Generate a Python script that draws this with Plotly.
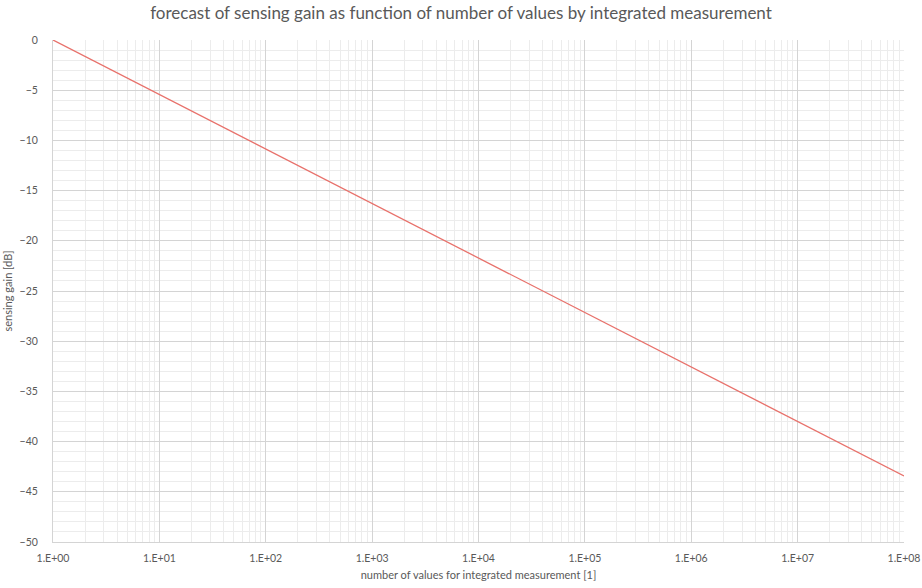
import plotly.graph_objects as go

n_values = [1, 1e1, 1e2, 1e3, 1e4, 1e5, 1e6, 1e7, 1e8]
gain_db = [0, -5.43, -10.86, -16.29, -21.71, -27.14, -32.57, -38.0, -43.43]
x_tick_vals = [1, 1e1, 1e2, 1e3, 1e4, 1e5, 1e6, 1e7, 1e8]
x_tick_text = ["1.E+00", "1.E+01", "1.E+02", "1.E+03", "1.E+04", "1.E+05", "1.E+06", "1.E+07", "1.E+08"]
y_tick_vals = [0, -5, -10, -15, -20, -25, -30, -35, -40, -45, -50]

FONT = "Lato, 'Open Sans', sans-serif"
GRAY = "#595959"

fig = go.Figure()
fig.add_trace(go.Scatter(x=n_values, y=gain_db, mode="lines",
                         line=dict(color="#e8716b", width=1.3), showlegend=False))

fig.update_layout(
    width=922, height=588,
    paper_bgcolor="white", plot_bgcolor="white",
    margin=dict(l=53, r=18, t=40, b=46, autoexpand=False),
    title=dict(text="forecast of sensing gain as function of number of values by integrated measurement",
               x=0.5, xanchor="center", y=0.988, yanchor="top",
               font=dict(family=FONT, size=17, color=GRAY)),
    font=dict(family=FONT, size=10.5, color=GRAY),
)
fig.update_xaxes(
    type="log", range=[0, 8],
    tickvals=x_tick_vals, ticktext=x_tick_text,
    showgrid=True, gridcolor="#d4d4d4", gridwidth=1,
    minor=dict(dtick="D1", showgrid=True, gridcolor="#ececec", gridwidth=1),
    showline=True, linecolor="#d4d4d4", zeroline=False,
    ticks="", ticklabelstandoff=6,
    tickfont=dict(family=FONT, size=10.5, color=GRAY),
    title=dict(text="number of values for integrated measurement [1]",
               font=dict(family=FONT, size=11, color=GRAY), standoff=8),
)
fig.update_yaxes(
    range=[-50, 0],
    tickvals=y_tick_vals,
    showgrid=True, gridcolor="#d4d4d4", gridwidth=1,
    minor=dict(dtick=1, showgrid=True, gridcolor="#ececec", gridwidth=1),
    showline=True, linecolor="#d4d4d4", zeroline=False,
    ticks="", ticklabelstandoff=12,
    tickfont=dict(family=FONT, size=10.5, color=GRAY),
    title=dict(text="sensing gain [dB]",
               font=dict(family=FONT, size=11, color=GRAY), standoff=4),
)

fig.write_html("out.html", config={"displayModeBar": False},
               post_script="document.body.style.margin='0';document.body.style.overflow='hidden';")
